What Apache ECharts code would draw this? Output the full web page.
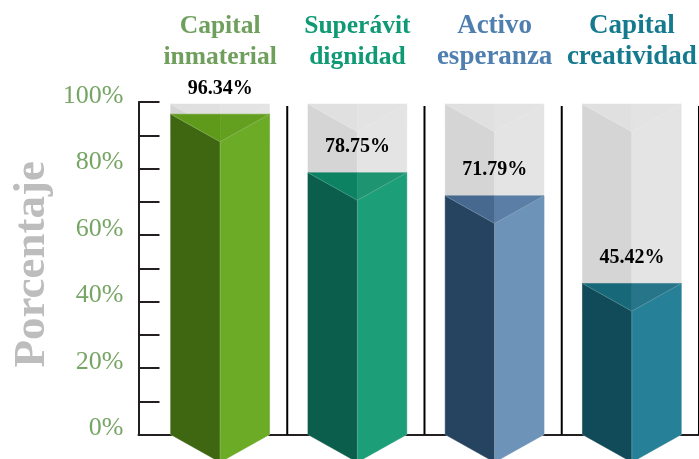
<!DOCTYPE html>
<html><head><meta charset="utf-8">
<style>html,body{margin:0;padding:0;background:#fff}#c{width:699px;height:459px}</style>
<script src="https://cdn.jsdelivr.net/npm/echarts@6/dist/echarts.min.js"></script>
</head><body><div id="c"></div>
<script>
const categories = ['Capital\ninmaterial', 'Superávit\ndignidad', 'Activo\nesperanza', 'Capital\ncreatividad'];
const values = [96.34, 78.75, 71.79, 45.42];
const labels = ['96.34%', '78.75%', '71.79%', '45.42%'];
const trackTop = 99.4;
const separatorTop = 98.8;
const yTickValues = [0, 10, 20, 30, 40, 50, 60, 70, 80, 90, 100];
const yLabelValues = [0, 20, 40, 60, 80, 100];
const titleColors = ['#6f9f5c', '#0f9a75', '#4f7fae', '#167a8f'];
const titleSizes = [25.5, 25.5, 27, 27];
const leftColors = ['#3f6610', '#0b5e4c', '#26445f', '#114a58'];
const rightColors = ['#6cab26', '#1c9f78', '#6d94b8', '#268097'];
const topLeftColors = ['#5f9a1a', '#0d8263', '#47698f', '#176879'];
const topRightColors = ['#64a01f', '#1f9470', '#5a7ea6', '#267589'];
const serif = '"Liberation Serif", "Times New Roman", serif';

function prism(xl, xc, xr, yt, yb, d, cols, stroke) {
  const shape = (points, fill) => ({
    type: 'polygon', shape: { points },
    style: { fill, stroke: fill, lineWidth: 0.5 }
  });
  const edge = (a, b) => ({
    type: 'line', shape: { x1: a[0], y1: a[1], x2: b[0], y2: b[1] },
    style: { stroke, lineWidth: 0.6, opacity: 0.4 }
  });
  return [
    shape([[xl, yt], [xc, yt + d], [xc, yb + d], [xl, yb]], cols[0]),
    shape([[xr, yt], [xc, yt + d], [xc, yb + d], [xr, yb]], cols[1]),
    shape([[xl, yt], [xc, yt], [xc, yt + d]], cols[2]),
    shape([[xr, yt], [xc, yt], [xc, yt + d]], cols[3]),
    edge([xl, yt], [xc, yt + d]), edge([xr, yt], [xc, yt + d]), edge([xc, yt + d], [xc, yb + d])
  ];
}

function renderPrism(params, api) {
  const i = api.value(0);
  const band = api.size([1, 0])[0];
  const w = band * 0.72;
  const d = w * 0.28;
  const c = api.coord([i, 0]);
  const yb = c[1];
  const xc = c[0], xl = xc - w / 2, xr = xc + w / 2;
  const yt = api.coord([i, api.value(1)])[1];
  const yTrack = api.coord([i, trackTop])[1];
  const ySep = api.coord([i, separatorTop])[1];
  const sepX = xc + band * 0.489;
  const children = [
    { type: 'line', shape: { x1: sepX, y1: ySep, x2: sepX, y2: yb }, style: { stroke: '#000', lineWidth: 2 } },
    ...prism(xl, xc, xr, yTrack, yb, d, ['#d5d5d5', '#e4e4e4', '#e0e0e0', '#e3e3e3'], '#eeeeee'),
    ...prism(xl, xc, xr, yt, yb, d, [leftColors[i], rightColors[i], topLeftColors[i], topRightColors[i]], '#cfe3dc'),
    { type: 'text', x: xc, y: yt - 25.5, style: {
      text: labels[i], fill: '#000', font: 'bold 20px ' + serif, textAlign: 'center', textVerticalAlign: 'middle'
    } }
  ];
  return { type: 'group', children };
}

const chart = echarts.init(document.getElementById('c'), null, { renderer: 'canvas' });
chart.setOption({
  animation: false,
  grid: [
    { left: 151.5, width: 549, top: 102, height: 332.5, containLabel: false, outerBoundsMode: 'none' },
    { left: 138.5, right: 0, top: 102, height: 332.5, containLabel: false, outerBoundsMode: 'none' }
  ],
  xAxis: [
    { type: 'category', gridIndex: 0, position: 'top',
      data: categories.map((value, i) => ({ value, textStyle: { fontSize: titleSizes[i], color: titleColors[i] } })),
      axisLine: { show: false }, axisTick: { show: false }, splitLine: { show: false },
      axisLabel: { margin: 29, fontFamily: serif, fontWeight: 'bold', fontSize: 25.5, lineHeight: 31, interval: 0 } },
    { type: 'value', gridIndex: 1, min: 0, max: 1, position: 'bottom',
      axisLine: { show: true, onZero: false, lineStyle: { color: '#231f20', width: 2 } },
      axisTick: { show: false }, axisLabel: { show: false }, splitLine: { show: false } }
  ],
  yAxis: [
    { type: 'value', gridIndex: 0, min: 0, max: 100, show: false },
    { type: 'value', gridIndex: 1, min: 0, max: 100,
      name: 'Porcentaje', nameLocation: 'middle', nameGap: 84, nameRotate: 90, nameMoveOverlap: false,
      nameTextStyle: { fontFamily: serif, fontWeight: 'bold', fontSize: 45, color: '#bdbdbd', padding: [0, 0, 0, 8] },
      axisLine: { show: true, lineStyle: { color: '#231f20', width: 2 } },
      axisTick: { show: true, inside: true, length: 21, lineStyle: { color: '#231f20', width: 2 }, customValues: yTickValues },
      axisLabel: { margin: 15, fontFamily: serif, fontSize: 26, color: '#76a565', verticalAlign: 'bottom', lineHeight: 12,
        customValues: yLabelValues, formatter: '{value}%' },
      splitLine: { show: false } }
  ],
  series: [{
    type: 'custom', coordinateSystem: 'cartesian2d', xAxisIndex: 0, yAxisIndex: 0, clip: false,
    renderItem: renderPrism, data: values.map((v, i) => [i, v])
  }]
});
</script></body></html>
